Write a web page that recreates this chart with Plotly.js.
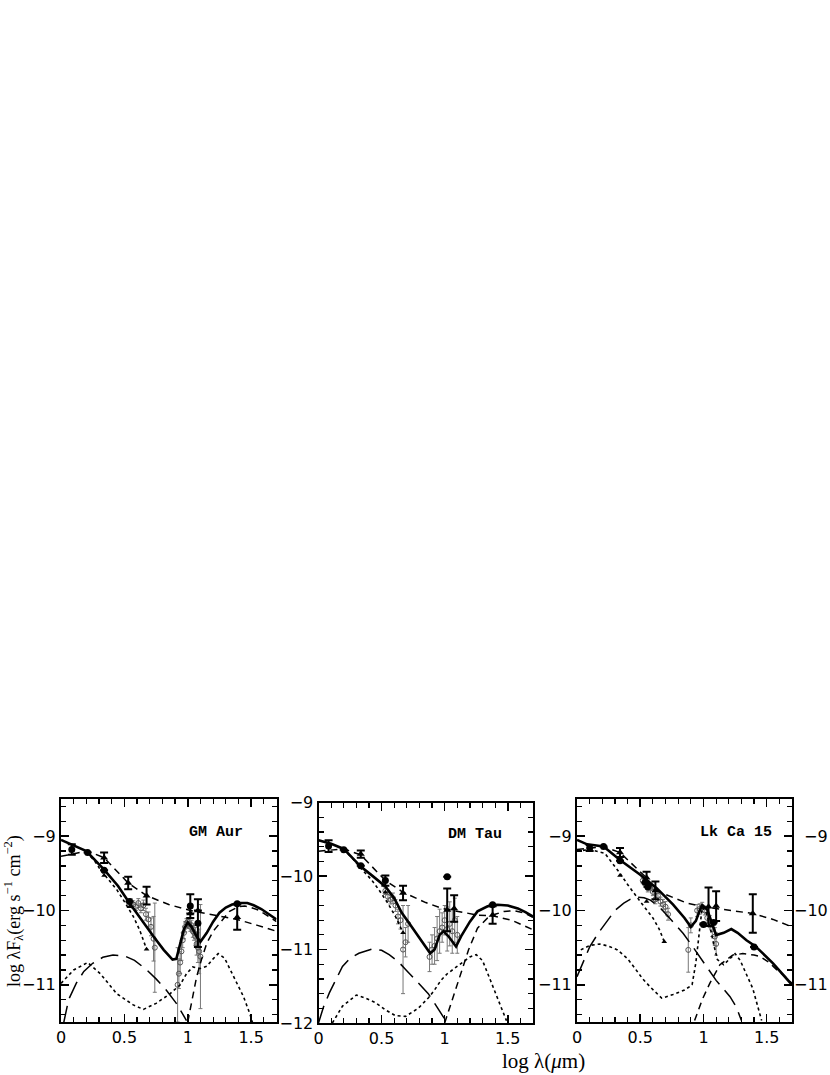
<!DOCTYPE html>
<html>
<head>
<meta charset="utf-8">
<script src="https://cdn.plot.ly/plotly-3.0.1.min.js"></script>
<style>html,body{margin:0;padding:0;background:#fff;}</style>
</head>
<body>
<div id="chart" style="width:830px;height:1075px;"></div>
<script>
// ---------- GM Aur ----------
const gmTotX = [0,0.1,0.2,0.34,0.45,0.54,0.65,0.73,0.81,0.88,0.91,0.94,0.97,1.0,1.03,1.07,1.1,1.15,1.2,1.25,1.3,1.35,1.41,1.47,1.52,1.58,1.64,1.7];
const gmTotY = [-9.05,-9.13,-9.2,-9.45,-9.67,-9.9,-10.17,-10.35,-10.53,-10.66,-10.65,-10.44,-10.25,-10.16,-10.22,-10.35,-10.42,-10.3,-10.15,-10.03,-9.96,-9.92,-9.9,-9.9,-9.93,-9.98,-10.05,-10.12];
const gmWallX = [1.0,1.04,1.07,1.11,1.15,1.2,1.27,1.33,1.4,1.45,1.5,1.55,1.6,1.65,1.7];
const gmWallY = [-11.5,-11.15,-10.89,-10.65,-10.44,-10.28,-10.13,-10.01,-9.95,-9.94,-9.96,-9.99,-10.04,-10.09,-10.15];
const gmLongX = [0.02,0.06,0.12,0.18,0.25,0.33,0.41,0.5,0.58,0.67,0.75,0.83,0.91,0.99];
const gmLongY = [-11.52,-11.2,-10.98,-10.82,-10.71,-10.63,-10.6,-10.61,-10.67,-10.79,-10.92,-11.07,-11.25,-11.48];
const gmDotX = [0,0.1,0.21,0.31,0.44,0.57,0.65,0.75,0.86,0.94,0.99,1.04,1.1,1.15,1.2,1.24,1.29,1.36,1.44,1.49,1.51];
const gmDotY = [-10.98,-10.8,-10.7,-10.85,-11.12,-11.27,-11.33,-11.25,-11.12,-11.0,-10.85,-10.76,-10.78,-10.75,-10.65,-10.58,-10.64,-10.89,-11.16,-11.39,-11.5];
const gmPhotX = [0.2,0.26,0.31,0.37,0.44,0.5,0.57,0.62,0.675];
const gmPhotY = [-9.22,-9.32,-9.45,-9.58,-9.72,-9.88,-10.08,-10.26,-10.52];
const gmMedX = [0,0.1,0.21,0.34,0.53,0.675,0.85,1.02,1.2,1.39,1.55,1.7];
const gmMedY = [-9.27,-9.24,-9.2,-9.29,-9.63,-9.8,-9.92,-10.0,-10.06,-10.12,-10.2,-10.28];
const gmMedPtX = [0.34,0.53,0.675,1.02,1.08,1.39];
const gmMedPtY = [-9.29,-9.63,-9.8,-10.04,-10.0,-10.09];
const gmMedPtE = [0.07,0.085,0.12,null,null,0.17];
const gmCircX = [0.085,0.21,0.34,0.54,1.02,1.08,1.39];
const gmCircY = [-9.18,-9.22,-9.46,-9.88,-9.94,-10.17,-9.91];
const gmCircE = [0.07,null,null,null,0.16,0.32,null];
const gmTriX = [0.34,0.54,0.675];
const gmTriY = [-9.53,-9.95,-10.52];
const gmIrsX = [0.55,0.57,0.59,0.61,0.63,0.65,0.67,0.69,0.71,0.73,0.74,0.92,0.93,0.94,0.95,0.96,0.97,0.98,0.99,1.0,1.01,1.02,1.03,1.04,1.05,1.06,1.07,1.08,1.09,1.1];
const gmIrsY = [-9.88,-9.92,-9.95,-9.9,-9.97,-9.93,-10.05,-10.12,-10.22,-10.38,-10.5,-11.0,-10.85,-10.7,-10.55,-10.4,-10.3,-10.22,-10.17,-10.15,-10.18,-10.22,-10.2,-10.28,-10.3,-10.35,-10.45,-10.5,-10.55,-10.62];
const gmIrsE = [0.04,0.05,0.05,0.06,0.06,0.07,0.08,0.1,0.12,0.3,0.6,0.5,0.2,0.15,0.12,0.1,0.08,0.07,0.06,0.05,0.06,0.06,0.07,0.08,0.1,0.12,0.15,0.2,0.3,0.7];

// ---------- DM Tau ----------
const dmTotX = [0,0.1,0.2,0.335,0.43,0.53,0.6,0.66,0.73,0.79,0.85,0.885,0.92,0.96,0.99,1.03,1.09,1.13,1.2,1.26,1.34,1.42,1.5,1.58,1.64,1.7];
const dmTotY = [-9.51,-9.56,-9.63,-9.87,-10.0,-10.14,-10.3,-10.5,-10.67,-10.82,-10.98,-11.05,-11.0,-10.8,-10.75,-10.82,-10.96,-10.82,-10.62,-10.48,-10.41,-10.39,-10.4,-10.44,-10.49,-10.55];
const dmWallX = [1.0,1.05,1.12,1.19,1.26,1.34,1.4,1.47,1.55,1.63,1.7];
const dmWallY = [-12.0,-11.73,-11.37,-11.0,-10.71,-10.57,-10.52,-10.48,-10.47,-10.5,-10.56];
const dmLongX = [0,0.04,0.086,0.14,0.19,0.25,0.32,0.43,0.5,0.56,0.63,0.69,0.76,0.82,0.87,0.92,0.97,1.02];
const dmLongY = [-12.0,-11.78,-11.59,-11.4,-11.23,-11.12,-11.05,-10.99,-11.01,-11.07,-11.16,-11.27,-11.4,-11.5,-11.6,-11.73,-11.86,-12.0];
const dmDotX = [0.11,0.19,0.3,0.37,0.45,0.53,0.61,0.69,0.79,0.87,0.92,0.97,1.02,1.08,1.14,1.2,1.25,1.3,1.37,1.43,1.49];
const dmDotY = [-12.0,-11.77,-11.62,-11.66,-11.72,-11.82,-11.9,-11.91,-11.8,-11.66,-11.55,-11.42,-11.33,-11.25,-11.18,-11.1,-11.07,-11.15,-11.45,-11.7,-11.97];
const dmPhotX = [0.2,0.27,0.35,0.42,0.48,0.55,0.61,0.67];
const dmPhotY = [-9.64,-9.76,-9.92,-10.05,-10.19,-10.37,-10.55,-10.77];
const dmMedX = [0,0.1,0.2,0.335,0.53,0.67,0.85,0.98,1.1,1.26,1.38,1.53,1.7];
const dmMedY = [-9.66,-9.64,-9.63,-9.71,-10.06,-10.22,-10.36,-10.44,-10.48,-10.53,-10.54,-10.6,-10.73];
const dmMedPtX = [0.335,0.67,1.02,1.075,1.38];
const dmMedPtY = [-9.7,-10.23,-10.46,-10.44,-10.53];
const dmMedPtE = [0.05,0.1,0.29,0.18,0.12];
const dmCircX = [0.08,0.2,0.335,0.53,1.02,1.38];
const dmCircY = [-9.59,-9.64,-9.86,-10.06,-10.01,-10.39];
const dmCircE = [0.08,null,null,0.07,null,null];
const dmTriX = [0.53,0.67];
const dmTriY = [-10.22,-10.77];
const dmIrsX = [0.53,0.55,0.57,0.59,0.61,0.63,0.65,0.67,0.69,0.71,0.88,0.9,0.92,0.94,0.96,0.98,1.0,1.02,1.04,1.06,1.08,1.1];
const dmIrsY = [-10.2,-10.28,-10.32,-10.3,-10.4,-10.55,-10.6,-11.0,-10.9,-10.65,-11.1,-11.0,-10.95,-10.85,-10.75,-10.7,-10.6,-10.72,-10.65,-10.75,-10.6,-10.8];
const dmIrsE = [0.05,0.06,0.06,0.07,0.08,0.1,0.12,0.6,0.2,0.25,0.2,0.2,0.25,0.3,0.3,0.2,0.2,0.3,0.3,0.3,0.3,0.25];

// ---------- Lk Ca 15 ----------
const lkTotX = [0,0.08,0.21,0.34,0.5,0.63,0.76,0.85,0.9,0.94,0.97,0.99,1.03,1.07,1.1,1.16,1.22,1.27,1.34,1.41,1.55,1.7];
const lkTotY = [-9.05,-9.11,-9.14,-9.32,-9.52,-9.7,-9.92,-10.1,-10.22,-10.14,-10.0,-9.93,-9.99,-10.17,-10.33,-10.3,-10.25,-10.3,-10.4,-10.48,-10.71,-11.0];
const lkWallX = [0.93,0.99,1.05,1.13,1.23,1.31,1.4,1.45,1.52,1.58,1.64,1.7];
const lkWallY = [-11.48,-11.2,-10.98,-10.73,-10.6,-10.58,-10.6,-10.62,-10.7,-10.8,-10.88,-10.98];
const lkLongX = [0,0.05,0.1,0.17,0.24,0.3,0.37,0.42,0.47,0.53,0.58,0.65,0.71,0.78,0.84,0.9,0.97,1.04,1.1,1.16,1.21,1.26,1.3];
const lkLongY = [-10.89,-10.68,-10.49,-10.3,-10.13,-10.0,-9.9,-9.85,-9.82,-9.83,-9.86,-9.95,-10.06,-10.19,-10.31,-10.45,-10.62,-10.78,-10.94,-11.06,-11.16,-11.3,-11.48];
const lkDotX = [0.03,0.1,0.18,0.25,0.32,0.4,0.45,0.52,0.58,0.67,0.76,0.85,0.91,0.94,0.97,0.99,1.02,1.05,1.08,1.11,1.16,1.21,1.25,1.29,1.34,1.39,1.46];
const lkDotY = [-10.53,-10.47,-10.45,-10.48,-10.53,-10.65,-10.76,-10.92,-11.03,-11.18,-11.13,-11.07,-11.0,-10.7,-10.25,-9.96,-10.02,-10.2,-10.45,-10.66,-10.73,-10.64,-10.58,-10.67,-10.85,-11.05,-11.48];
const lkPhotX = [0,0.1,0.22,0.28,0.34,0.4,0.45,0.5,0.55,0.6,0.65,0.69];
const lkPhotY = [-9.2,-9.18,-9.23,-9.36,-9.5,-9.65,-9.77,-9.88,-9.99,-10.1,-10.25,-10.42];
const lkMedX = [0,0.1,0.21,0.34,0.55,0.62,0.75,0.87,1.0,1.08,1.2,1.39,1.55,1.7];
const lkMedY = [-9.18,-9.16,-9.14,-9.22,-9.56,-9.73,-9.82,-9.9,-9.95,-9.97,-10.0,-10.04,-10.12,-10.22];
const lkMedPtX = [0.34,0.55,0.62,1.04,1.1,1.39];
const lkMedPtY = [-9.22,-9.56,-9.73,-9.95,-9.94,-10.04];
const lkMedPtE = [0.06,0.08,0.12,0.26,0.2,0.26];
const lkCircX = [0.1,0.21,0.34,0.54,0.56,1.0,1.08,1.4];
const lkCircY = [-9.16,-9.14,-9.33,-9.62,-9.68,-10.19,-10.16,-10.49];
const lkCircE = [0.04,null,null,null,null,null,null,null];
const lkTriX = [0.34,0.55,0.69];
const lkTriY = [-9.53,-9.88,-10.42];
const lkIrsX = [0.52,0.54,0.56,0.58,0.6,0.62,0.64,0.66,0.68,0.7,0.72,0.88,0.9,0.95,0.97,0.99,1.01,1.03,1.05,1.07,1.09,1.1];
const lkIrsY = [-9.6,-9.65,-9.7,-9.68,-9.75,-9.85,-9.8,-9.88,-9.92,-9.95,-10.05,-10.53,-10.2,-10.0,-9.98,-9.95,-10.0,-10.1,-10.15,-10.25,-10.35,-10.45];
const lkIrsE = [0.04,0.04,0.05,0.05,0.05,0.06,0.06,0.06,0.07,0.07,0.08,0.3,0.1,0.08,0.07,0.06,0.06,0.07,0.08,0.1,0.12,0.15];

const panelNames = ['GM Aur','DM Tau','Lk Ca 15'];
const yTickVals1 = [-9,-10,-11];
const yTickVals2 = [-9,-10,-11,-12];
const nextPanelTicks = [-9,-10,-11];

function panelTraces(xa, ya, d) {
  const line = (x, y, w, dash) => ({x, y, xaxis: xa, yaxis: ya, mode: 'lines', type: 'scatter',
    line: {color: '#000', width: w, dash: dash}, hoverinfo: 'skip'});
  return [
    {x: d.irsX, y: d.irsY, xaxis: xa, yaxis: ya, mode: 'markers', type: 'scatter',
     marker: {symbol: 'circle-open', size: 5, color: '#555', line: {width: 1, color: '#555'}},
     error_y: {type: 'data', array: d.irsE, color: '#777', thickness: 1, width: 2}},
    line(d.longX, d.longY, 1.5, '18px,8px'),
    line(d.dotX, d.dotY, 1.6, 'dot'),
    line(d.photX, d.photY, 1.6, 'dot'),
    line(d.wallX, d.wallY, 1.5, '7px,5px'),
    line(d.medX, d.medY, 1.5, '7px,5px'),
    line(d.totX, d.totY, 2.6, 'solid'),
    {x: d.triX, y: d.triY, xaxis: xa, yaxis: ya, mode: 'markers', type: 'scatter',
     marker: {symbol: 'triangle-up', size: 5, color: '#000'}},
    {x: d.medPtX, y: d.medPtY, xaxis: xa, yaxis: ya, mode: 'markers', type: 'scatter',
     marker: {symbol: 'triangle-up', size: 7, color: '#000'},
     error_y: {type: 'data', array: d.medPtE, color: '#000', thickness: 2, width: 4}},
    {x: d.circX, y: d.circY, xaxis: xa, yaxis: ya, mode: 'markers', type: 'scatter',
     marker: {symbol: 'circle', size: 7, color: '#000'},
     error_y: {type: 'data', array: d.circE, color: '#000', thickness: 2, width: 4}}
  ];
}

const data = [].concat(
  panelTraces('x', 'y', {totX: gmTotX, totY: gmTotY, wallX: gmWallX, wallY: gmWallY, longX: gmLongX, longY: gmLongY,
    dotX: gmDotX, dotY: gmDotY, photX: gmPhotX, photY: gmPhotY, medX: gmMedX, medY: gmMedY,
    medPtX: gmMedPtX, medPtY: gmMedPtY, medPtE: gmMedPtE, circX: gmCircX, circY: gmCircY, circE: gmCircE,
    triX: gmTriX, triY: gmTriY, irsX: gmIrsX, irsY: gmIrsY, irsE: gmIrsE}),
  panelTraces('x2', 'y2', {totX: dmTotX, totY: dmTotY, wallX: dmWallX, wallY: dmWallY, longX: dmLongX, longY: dmLongY,
    dotX: dmDotX, dotY: dmDotY, photX: dmPhotX, photY: dmPhotY, medX: dmMedX, medY: dmMedY,
    medPtX: dmMedPtX, medPtY: dmMedPtY, medPtE: dmMedPtE, circX: dmCircX, circY: dmCircY, circE: dmCircE,
    triX: dmTriX, triY: dmTriY, irsX: dmIrsX, irsY: dmIrsY, irsE: dmIrsE}),
  panelTraces('x3', 'y3', {totX: lkTotX, totY: lkTotY, wallX: lkWallX, wallY: lkWallY, longX: lkLongX, longY: lkLongY,
    dotX: lkDotX, dotY: lkDotY, photX: lkPhotX, photY: lkPhotY, medX: lkMedX, medY: lkMedY,
    medPtX: lkMedPtX, medPtY: lkMedPtY, medPtE: lkMedPtE, circX: lkCircX, circY: lkCircY, circE: lkCircE,
    triX: lkTriX, triY: lkTriY, irsX: lkIrsX, irsY: lkIrsY, irsE: lkIrsE})
);

const W = 830, H = 1075;
const tickFont = {family: 'DejaVu Sans, Liberation Sans, sans-serif', size: 16, color: '#000'};
function xAx(l, r, anchor) {
  return {domain: [l / W, r / W], range: [0, 1.7], anchor: anchor, tick0: 0, dtick: 0.5,
    ticks: 'inside', ticklen: 8, tickwidth: 1.5, tickcolor: '#000', mirror: 'allticks',
    showline: true, linewidth: 2, linecolor: '#000', showgrid: false, zeroline: false,
    tickfont: tickFont, fixedrange: true,
    minor: {dtick: 0.1, tick0: 0, ticks: 'inside', ticklen: 5, tickwidth: 1.2, tickcolor: '#000', showgrid: false}};
}
function yAx(top, bot, range, anchor) {
  return {domain: [(H - bot) / H, (H - top) / H], range: range, anchor: anchor, tick0: -12, dtick: 1,
    ticks: 'inside', ticklen: 8, tickwidth: 1.5, tickcolor: '#000', mirror: 'allticks',
    showline: true, linewidth: 2, linecolor: '#000', showgrid: false, zeroline: false,
    tickfont: tickFont, fixedrange: true,
    minor: {dtick: 0.2, tick0: -12, ticks: 'inside', ticklen: 5, tickwidth: 1.2, tickcolor: '#000', showgrid: false}};
}

const nameFont = {family: 'Liberation Mono, DejaVu Sans Mono, monospace', size: 15, color: '#000', weight: 'bold'};
const annotations = [
  {text: panelNames[0], xref: 'x', yref: 'y', x: 0.99, y: -8.95, xanchor: 'left', yanchor: 'middle', showarrow: false, font: nameFont},
  {text: panelNames[1], xref: 'x2', yref: 'y2', x: 1.01, y: -9.43, xanchor: 'left', yanchor: 'middle', showarrow: false, font: nameFont},
  {text: panelNames[2], xref: 'x3', yref: 'y3', x: 0.96, y: -8.95, xanchor: 'left', yanchor: 'middle', showarrow: false, font: nameFont},
  {text: 'log λF<sub>λ</sub>(erg s<sup>−1</sup> cm<sup>−2</sup>)', xref: 'paper', yref: 'paper', x: 13 / W, y: (H - 911) / H,
   textangle: -90, showarrow: false, xanchor: 'center', yanchor: 'middle',
   font: {family: 'Liberation Serif, Times New Roman, serif', size: 18, color: '#000'}},
  {text: 'log λ(<i>μ</i>m)', xref: 'paper', yref: 'paper', x: 543 / W, y: (H - 1061) / H,
   showarrow: false, xanchor: 'center', yanchor: 'middle',
   font: {family: 'Liberation Serif, Times New Roman, serif', size: 21, color: '#000'}}
].concat(nextPanelTicks.map(v => ({text: '−' + Math.abs(v), xref: 'paper', yref: 'y3', x: 830 / W, y: v,
   xanchor: 'right', yanchor: 'middle', showarrow: false, font: tickFont})));

const layout = {
  width: W, height: H, margin: {l: 0, r: 0, t: 0, b: 0},
  paper_bgcolor: '#fff', plot_bgcolor: '#fff', showlegend: false,
  xaxis: xAx(61, 276.5, 'y'),
  xaxis2: xAx(318.5, 533, 'y2'),
  xaxis3: xAx(577, 792, 'y3'),
  yaxis: Object.assign(yAx(799, 1022, [-11.5, -8.5], 'x'), {tickmode: 'array', tickvals: yTickVals1}),
  yaxis2: Object.assign(yAx(802.7, 1023, [-12, -9], 'x2'), {tickmode: 'array', tickvals: yTickVals2}),
  yaxis3: Object.assign(yAx(799, 1022, [-11.5, -8.5], 'x3'), {tickmode: 'array', tickvals: yTickVals1}),
  annotations: annotations
};

Plotly.newPlot('chart', data, layout, {staticPlot: true, displayModeBar: false});
</script>
</body>
</html>
